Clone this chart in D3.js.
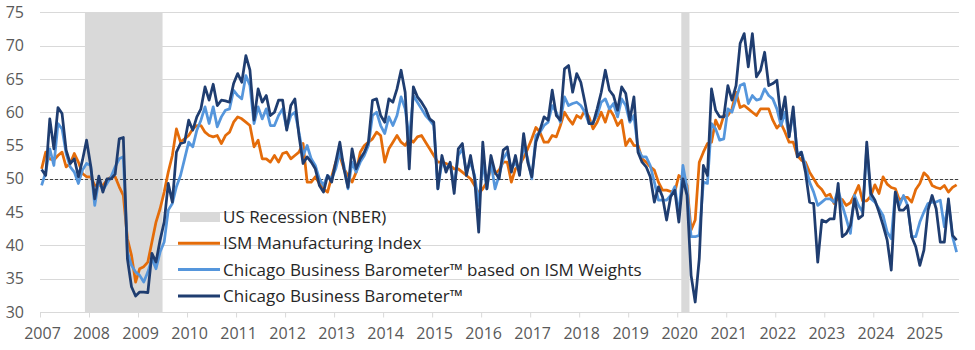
<!DOCTYPE html>
<html>
<head>
<meta charset="utf-8">
<script src="https://cdn.jsdelivr.net/npm/d3@7"></script>
<style>
body { margin: 0; background: #fff; }
text { font-family: "Open Sans", sans-serif; }
</style>
</head>
<body>
<div id="chart"></div>
<script>
// monthly values, Jan 2007 .. Sep 2025
var startYear = 2007;

var ism = [
	51.5, 54.0, 53.0, 52.8, 53.5, 54.0, 51.8, 52.3, 53.8, 52.5, 50.8, 50.3,
	50.3, 49.0, 49.0, 49.0, 49.8, 50.3, 50.3, 48.8, 47.5, 41.0, 38.5, 34.5,
	36.5, 36.8, 37.5, 40.5, 43.5, 45.5, 48.0, 51.0, 53.5, 57.5, 55.5, 56.0,
	56.5, 57.5, 58.0, 58.0, 57.0, 56.5, 56.3, 56.5, 55.3, 56.5, 57.0, 58.5,
	59.3, 59.0, 58.5, 58.0, 54.8, 55.8, 53.0, 53.0, 52.5, 53.5, 52.5, 53.8,
	54.0, 53.0, 53.5, 54.0, 55.3, 49.5, 49.5, 50.3, 49.3, 48.5, 48.0, 50.3,
	52.5, 53.5, 51.5, 50.5, 49.5, 51.0, 54.0, 55.0, 55.5, 56.0, 57.0, 56.5,
	52.5, 54.5, 55.5, 56.5, 55.5, 55.0, 56.0, 55.5, 56.3, 56.5, 55.5, 54.5,
	53.5, 52.5, 52.5, 52.3, 52.0, 51.5, 51.5, 51.0, 50.5, 50.0, 49.0, 47.8,
	48.5, 49.5, 51.5, 50.8, 51.3, 52.5, 52.5, 49.5, 51.5, 52.0, 53.2, 54.5,
	56.0, 57.7, 57.0, 55.5, 55.5, 56.5, 56.3, 58.0, 60.0, 59.0, 58.2, 59.5,
	59.1, 60.3, 59.3, 57.5, 58.5, 60.0, 58.5, 60.5, 59.5, 58.0, 58.8, 55.0,
	56.0, 55.0, 55.0, 53.0, 52.5, 51.8, 51.3, 49.5, 48.3, 48.3, 48.1, 48.0,
	50.5, 50.0, 49.0, 42.3, 43.8, 52.5, 54.0, 55.3, 55.5, 58.8, 57.5, 59.5,
	59.5, 60.5, 63.0, 60.7, 61.0, 60.5, 60.0, 59.5, 60.5, 60.5, 60.5, 58.8,
	57.6, 58.3, 57.0, 55.5, 55.5, 53.5, 52.8, 52.5, 51.0, 50.0, 49.0, 48.4,
	47.4, 47.7, 46.3, 47.1, 46.9, 46.0, 46.4, 47.6, 49.0, 46.7, 46.7, 47.4,
	49.1, 47.8, 50.3, 49.2, 48.7, 48.5, 46.8, 47.2, 47.2, 46.5, 48.4, 49.3,
	50.9, 50.3, 49.0, 48.7, 48.5, 49.0, 48.0, 48.7, 49.1
];

var cbbIsmWeights = [
	49.0, 51.0, 54.5, 52.0, 58.3, 57.5, 53.8, 51.8, 51.0, 49.3, 51.3, 52.3,
	52.0, 46.0, 49.8, 48.3, 49.3, 50.3, 51.8, 53.0, 53.3, 39.0, 37.0, 36.0,
	35.5, 34.5, 36.0, 38.0, 36.5, 39.0, 40.5, 45.3, 46.3, 48.8, 50.5, 53.0,
	55.5, 54.8, 57.3, 58.8, 60.8, 58.3, 60.8, 57.8, 59.3, 60.3, 60.5, 63.3,
	62.5, 62.0, 65.5, 64.0, 58.3, 60.8, 59.0, 60.5, 58.0, 58.0, 59.5, 60.5,
	57.5, 59.5, 60.0, 57.0, 53.5, 55.0, 53.0, 52.0, 50.0, 49.0, 50.5, 50.0,
	51.5, 54.0, 52.0, 48.5, 52.5, 51.0, 52.5, 53.5, 55.0, 59.5, 60.0, 58.0,
	56.8, 59.3, 58.0, 59.5, 62.3, 60.5, 56.0, 62.5, 61.5, 60.5, 59.5, 58.8,
	58.0, 48.5, 52.5, 51.5, 52.3, 49.0, 53.5, 54.5, 51.0, 52.5, 50.5, 46.0,
	52.5, 48.5, 52.5, 48.5, 50.5, 53.0, 54.0, 51.5, 52.5, 51.0, 55.0, 53.0,
	50.0, 56.5, 57.0, 58.0, 58.5, 61.0, 60.0, 58.5, 62.3, 61.0, 61.3, 61.5,
	61.0, 60.0, 58.3, 58.5, 59.5, 61.5, 62.0, 60.5, 61.3, 59.3, 62.0, 61.0,
	58.5, 59.5, 54.5, 53.3, 53.3, 52.0, 49.5, 46.8, 46.8, 46.8, 47.5, 48.8,
	44.5, 52.0, 48.5, 41.3, 41.3, 41.5, 49.5, 49.3, 58.3, 57.5, 55.8, 56.0,
	60.5, 60.0, 62.0, 64.0, 64.3, 61.3, 62.5, 61.8, 62.0, 63.5, 62.5, 62.0,
	60.5, 58.0, 60.0, 56.3, 60.0, 53.8, 54.0, 52.0, 49.5, 48.0, 46.0, 46.5,
	47.0, 47.0, 46.5, 48.3, 46.0, 44.0, 41.8, 47.5, 46.0, 45.0, 54.8, 47.0,
	46.5, 45.5, 44.5, 42.0, 41.0, 48.0, 46.0, 47.5, 46.0, 41.3, 41.3, 43.5,
	45.0, 46.3, 46.5, 46.5, 46.8, 42.8, 46.5, 41.3, 39.0
];

var cbb = [
	51.4, 50.5, 59.0, 54.5, 60.7, 59.8, 54.3, 52.3, 53.0, 50.3, 52.8, 55.8,
	52.0, 47.0, 50.4, 48.0, 50.0, 50.0, 50.7, 56.0, 56.2, 38.0, 33.8, 32.4,
	33.0, 33.0, 32.9, 38.8, 37.5, 40.8, 43.5, 49.3, 46.5, 54.0, 55.3, 55.5,
	58.8, 57.3, 59.3, 60.5, 63.8, 61.8, 64.2, 61.0, 61.8, 61.7, 61.5, 64.3,
	65.8, 64.5, 68.5, 66.3, 58.8, 63.5, 61.5, 62.5, 59.5, 60.0, 61.8, 61.8,
	57.3, 61.0, 62.0, 56.5, 52.3, 53.3, 52.5, 51.5, 49.0, 48.0, 50.5, 49.5,
	52.5, 55.5, 51.5, 48.7, 54.5, 51.5, 53.0, 54.0, 55.5, 61.8, 62.0, 59.5,
	58.5, 62.0, 61.5, 63.5, 66.3, 63.0, 51.5, 63.8, 62.3, 61.5, 60.5, 59.0,
	58.5, 48.5, 53.5, 51.0, 52.5, 47.8, 54.5, 55.3, 50.5, 53.5, 50.0, 42.0,
	55.5, 48.5, 53.5, 51.0, 50.0, 54.3, 54.8, 51.0, 53.5, 50.5, 56.8, 52.5,
	50.3, 55.5, 57.3, 59.3, 58.8, 63.3, 59.5, 58.8, 66.5, 67.0, 63.0, 65.8,
	64.5, 61.5, 58.3, 58.3, 60.5, 63.0, 66.3, 63.3, 62.5, 60.3, 63.8, 62.8,
	58.8, 62.3, 54.0, 52.5, 51.8, 50.3, 46.5, 48.8, 47.3, 43.8, 47.3, 48.3,
	43.5, 50.0, 47.5, 35.5, 31.5, 38.0, 52.0, 50.5, 63.5, 60.3, 59.3, 59.3,
	64.0, 61.8, 64.0, 70.3, 71.8, 66.8, 71.8, 65.3, 66.3, 69.0, 64.0, 64.3,
	64.8, 59.0, 62.3, 56.3, 60.8, 53.3, 54.0, 51.0, 46.5, 46.3, 37.5, 43.8,
	43.5, 44.0, 44.0, 49.3, 41.3, 41.8, 43.0, 47.0, 44.0, 44.5, 55.5, 47.8,
	46.8, 45.0, 43.0, 40.8, 36.3, 48.0, 45.3, 45.3, 46.0, 41.3, 39.8, 37.0,
	39.3, 45.3, 47.5, 45.5, 40.5, 40.5, 47.0, 41.5, 40.8
];

var yearTicks = d3.range(2007, 2026);
var yTicks = [30, 35, 40, 45, 50, 55, 60, 65, 70, 75];

// NBER recessions, first and last month (inclusive)
var recessions = [
	{ start: [2007, 12], end: [2009, 6] },
	{ start: [2020, 2], end: [2020, 3] }
];

var legendItems = [
	{ label: "US Recession (NBER)", type: "box", color: "#d9d9d9" },
	{ label: "ISM Manufacturing Index", type: "line", color: "#e46c0a" },
	{ label: "Chicago Business Barometer\u2122 based on ISM Weights", type: "line", color: "#5596dc" },
	{ label: "Chicago Business Barometer\u2122", type: "line", color: "#1f3d70" }
];

var w = 975, h = 350;
var plotLeft = 40, plotRight = 959, plotTop = 12.3, plotBottom = 312;

var x = d3.scaleLinear().domain([2007, 2025]).range([plotLeft, 922.3]);
var y = d3.scaleLinear().domain([30, 75]).range([plotBottom, plotTop]);

function monthPos(i) {
	return startYear + (i + 0.4) / 12;
}

var svg = d3.select("#chart").append("svg")
	.attr("width", w)
	.attr("height", h);

svg.append("rect").attr("width", w).attr("height", h).attr("fill", "#fff");

// gridlines
svg.append("g").selectAll("line")
	.data(yTicks.filter(function(d) { return d > 30; }))
	.enter().append("line")
	.attr("x1", plotLeft).attr("x2", plotRight)
	.attr("y1", function(d) { return Math.round(y(d)) + 0.5; })
	.attr("y2", function(d) { return Math.round(y(d)) + 0.5; })
	.attr("stroke", "#d9d9d9")
	.attr("stroke-width", 1);

// recession bands
svg.append("g").selectAll("rect")
	.data(recessions).enter()
	.append("rect")
	.attr("x", function(d) { return x(d.start[0] + (d.start[1] - 1) / 12); })
	.attr("width", function(d) { return x(d.end[0] + d.end[1] / 12) - x(d.start[0] + (d.start[1] - 1) / 12); })
	.attr("y", plotTop)
	.attr("height", plotBottom - plotTop)
	.attr("fill", "#d9d9d9");

// 50 line
svg.append("line")
	.attr("x1", plotLeft).attr("x2", plotRight)
	.attr("y1", Math.round(y(50)) + 0.5).attr("y2", Math.round(y(50)) + 0.5)
	.attr("stroke", "#404040")
	.attr("stroke-width", 1)
	.attr("stroke-dasharray", "3,2");

// x axis
var xAxis = d3.axisBottom(x)
	.tickValues(yearTicks)
	.tickFormat(d3.format("d"))
	.tickSize(5)
	.tickPadding(10);

var gx = svg.append("g")
	.attr("transform", "translate(0," + (Math.round(plotBottom) + 0.5) + ")")
	.call(xAxis);
gx.select(".domain").attr("stroke", "#d9d9d9").attr("d", "M" + plotLeft + ",0H" + plotRight);
gx.selectAll(".tick line").attr("stroke", "#d9d9d9");
gx.selectAll(".tick text")
	.attr("fill", "#595959")
	.attr("font-size", "16px")
	.attr("dx", "2");

// y axis labels
var yAxis = d3.axisLeft(y).tickValues(yTicks).tickSize(0).tickPadding(0);
var gy = svg.append("g")
	.attr("transform", "translate(" + 24 + ",0)")
	.call(yAxis);
gy.select(".domain").remove();
gy.selectAll(".tick text")
	.attr("fill", "#595959")
	.attr("font-size", "16px");

// series
var line = d3.line()
	.x(function(d, i) { return x(monthPos(i)); })
	.y(function(d) { return y(d); });

var seriesList = [
	{ values: ism, color: legendItems[1].color },
	{ values: cbbIsmWeights, color: legendItems[2].color },
	{ values: cbb, color: legendItems[3].color }
];

svg.append("g").selectAll("path")
	.data(seriesList).enter()
	.append("path")
	.attr("d", function(d) { return line(d.values); })
	.attr("fill", "none")
	.attr("stroke", function(d) { return d.color; })
	.attr("stroke-width", 2.75)
	.attr("stroke-linejoin", "round");

// legend
var legend = svg.append("g").attr("transform", "translate(178,0)");
var rowY = [217, 243.3, 269.6, 295.9];

var items = legend.selectAll(".item")
	.data(legendItems).enter()
	.append("g")
	.attr("class", "item")
	.attr("transform", function(d, i) { return "translate(0," + rowY[i] + ")"; });

items.each(function(d) {
	var g = d3.select(this);
	if (d.type == "box") {
		g.append("rect").attr("x", 2).attr("y", -5).attr("width", 40).attr("height", 10).attr("fill", d.color);
	} else {
		g.append("line").attr("x1", 0).attr("x2", 42).attr("y1", 0).attr("y2", 0)
			.attr("stroke", d.color).attr("stroke-width", 3);
	}
});

items.append("text")
	.attr("x", 45)
	.attr("y", 6)
	.attr("fill", "#262626")
	.attr("font-size", "17px")
	.text(function(d) { return d.label; });
</script>
</body>
</html>
